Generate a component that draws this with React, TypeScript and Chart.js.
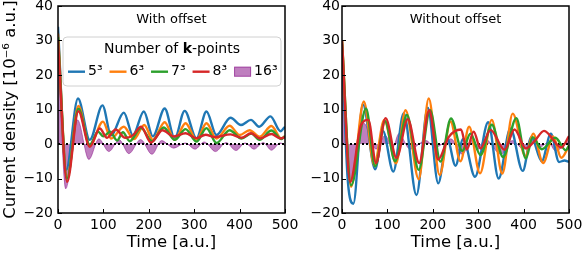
import React, { useEffect, useRef } from 'react';
import { Chart, registerables } from 'chart.js';

Chart.register(...registerables);

// ---------- ticks / labels ----------
const timeTicks = [0, 100, 200, 300, 400, 500];
const densityTicks = [-20, -10, 0, 10, 20, 30, 40];
const seriesLabels = ['5³', '6³', '7³', '8³', '16³'];
const seriesColors = ['#1f77b4', '#ff7f0e', '#2ca02c', '#d62728', '#800080'];

// ---------- "With offset" panel ----------
const offT5 = [0, 18, 44, 70, 98, 117, 145, 165, 189, 209, 235, 257, 279, 305, 327, 349, 380, 403, 425, 443, 468, 490, 500];
const offY5 = [34, -7.5, 13.2, 1.2, 11.2, 2.5, 9.1, 2.5, 9.4, 2.2, 10.3, 1.6, 9.6, 1.6, 9.4, 2.6, 7.6, 5.5, 7, 5, 8, 3.7, 5];
const offT6 = [0, 20, 45, 70, 99, 117, 145, 167, 190, 209, 235, 257, 281, 305, 327, 349, 378, 400, 422, 444, 470, 492, 500];
const offY6 = [32, -10, 11, -0.5, 6.5, 1.6, 5, 1.4, 5.5, 1.2, 6.3, 1.2, 6, 1.2, 6, 1.6, 5.3, 2.6, 4, 2.1, 5.2, 1.6, 2.2];
const offT7 = [0, 20, 45, 70, 88, 100, 115, 130, 143, 158, 183, 207, 233, 257, 281, 305, 327, 349, 378, 404, 426, 444, 470, 492, 500];
const offY7 = [31, -10, 10.2, -0.2, 3.6, 2.2, 3.6, 1, 3.4, 0.8, 4.6, 0.8, 4.8, 1.2, 4.3, 0.7, 4.6, 0.3, 4, 1.6, 3, 1.2, 3.9, 1.4, 2.3];
const offT8 = [0, 20, 45, 70, 92, 108, 127, 148, 165, 183, 205, 230, 255, 281, 305, 325, 345, 380, 405, 425, 445, 470, 490, 500];
const offY8 = [30, -11, 9.5, -0.8, 4.5, 1.8, 4.2, 1.8, 2.5, 5, 0.4, 4, 2.2, 3.1, 1.7, 2.7, 2, 2.8, 1.8, 3.1, 1.6, 2.9, 1.6, 2];
const offT16 = [0, 17, 43, 68, 90, 112, 135, 156, 182, 207, 228, 255, 280, 302, 322, 347, 370, 392, 412, 432, 452, 470, 490, 500];
const offY16 = [29, -13, 7, -4.5, 1.5, -2.2, 1.2, -2.8, 1.3, -3, 1, -1.2, 0.3, -1.5, 0.6, -2.2, 0.4, -1.9, 0.3, -1.5, 0.4, -1.8, 0.3, -0.5];

// ---------- "Without offset" panel ----------
const noT5 = [0, 13, 25, 46, 73, 90, 113, 136, 164, 189, 212, 232, 250, 267, 293, 322, 345, 371, 398, 417, 440, 460, 478, 490, 500];
const noY5 = [29, -11, -17.3, 11.5, -7.3, 3.8, -8, 8.9, -14.8, 10.5, -11.4, 1.5, -6.3, 1.5, -9.5, 6.3, -10, 4.5, -7.8, 2, -5, 3, -5.2, -4.8, -5.2];
const noT6 = [0, 20, 48, 71, 93, 119, 140, 169, 191, 215, 239, 261, 280, 304, 330, 353, 376, 404, 421, 443, 465, 483, 500];
const noY6 = [30, -12.4, 12.3, -6.1, 7, -5.6, 9.8, -10.2, 13.2, -9, 6.5, -5, 5, -8.5, 7, -8.6, 8.8, -3.5, 3, -5.5, 2.2, -4, -0.5];
const noT7 = [0, 20, 53, 73, 95, 117, 143, 169, 194, 217, 240, 265, 283, 305, 330, 355, 384, 405, 420, 440, 470, 493, 500];
const noY7 = [30, -12, 10.3, -6.5, 6.6, -5, 8.4, -7.5, 9.8, -5.1, 7.4, -2, 3, -3.2, 5.6, -3.8, 7.5, -4.2, 2, -1.5, 1.8, -1.8, -0.5];
const noT8 = [0, 18, 42, 58, 75, 96, 120, 145, 170, 192, 212, 235, 262, 275, 290, 305, 327, 358, 380, 405, 425, 445, 483, 500];
const noY8 = [30, -11, 5.5, 7, -5.5, 7.5, -4, 7.2, -5.5, 9.8, -4.5, 2, 4.2, -1.6, 3.6, -1.3, 4.1, -1.7, 4.2, -1.3, 1, 3.8, -1, 2.3];
const noT16 = [0, 18, 48, 75, 95, 112, 125, 150, 185, 205, 240, 265, 285, 300, 315, 350, 375, 400, 420, 435, 455, 470, 500];
const noY16 = [28, -11, 6, -1.5, 2.5, -1, 3, -1.5, 1, -1, 1.5, -3, 1, -1.5, 1.5, -3, 1, -1.5, 1, -1, 0.5, -2, 1];

const FONT = "'DejaVu Sans', sans-serif";

const zip = (t: number[], y: number[]) => t.map((tv, i) => ({ x: tv, y: y[i] }));
const fmt = (v: number) => (v < 0 ? '\u2212' + Math.abs(v) : String(v));

function buildDatasets(ts: number[][], ys: number[][]) {
  const orders = [4, 3, 2, 1, 6];
  const ds: any[] = ts.map((t, i) => {
    const isFill = i === 4;
    return {
      label: seriesLabels[i],
      data: zip(t, ys[i]),
      borderColor: isFill ? 'rgba(128,0,128,0.45)' : seriesColors[i],
      backgroundColor: isFill ? 'rgba(128,0,128,0.5)' : seriesColors[i],
      borderWidth: isFill ? 1 : 2.4,
      fill: isFill ? 'origin' : false,
      pointRadius: 0,
      cubicInterpolationMode: 'monotone',
      order: orders[i],
    };
  });
  ds.push({
    label: '',
    data: [{ x: timeTicks[0], y: 0 }, { x: timeTicks[timeTicks.length - 1], y: 0 }],
    borderColor: '#000',
    borderWidth: 2,
    borderDash: [2, 2],
    pointRadius: 0,
    fill: false,
    order: 5,
  });
  return ds;
}

const frameTicks = {
  id: 'frameTicks',
  afterDatasetsDraw(chart: any) {
    const { ctx, chartArea: a, scales } = chart;
    ctx.save();
    ctx.strokeStyle = '#000';
    ctx.lineWidth = 1;
    ctx.beginPath();
    scales.x.ticks.forEach((t: any) => {
      const px = Math.round(scales.x.getPixelForValue(t.value)) + 0.5;
      ctx.moveTo(px, a.bottom);
      ctx.lineTo(px, a.bottom - 4);
    });
    scales.y.ticks.forEach((t: any) => {
      const py = Math.round(scales.y.getPixelForValue(t.value)) + 0.5;
      ctx.moveTo(a.left, py);
      ctx.lineTo(a.left + 4, py);
    });
    ctx.stroke();
    ctx.lineWidth = 1.5;
    ctx.strokeRect(a.left, a.top, a.right - a.left, a.bottom - a.top);
    ctx.restore();
  },
};

const panelTitle = {
  id: 'panelTitle',
  afterDraw(chart: any, _args: any, opts: any) {
    if (!opts || !opts.text) return;
    const { ctx, chartArea: a } = chart;
    ctx.save();
    ctx.font = `13px ${FONT}`;
    ctx.fillStyle = '#000';
    ctx.textAlign = 'center';
    ctx.textBaseline = 'middle';
    ctx.fillText(opts.text, (a.left + a.right) / 2, a.top + 13.5);
    ctx.restore();
  },
};

const legendBox = {
  id: 'legendBox',
  afterDraw(chart: any, _args: any, opts: any) {
    if (!opts || !opts.show) return;
    const { ctx, chartArea: a } = chart;
    const x0 = a.left + 5;
    const x1 = a.right - 4;
    const y0 = a.top + 31;
    const y1 = a.top + 80;
    ctx.save();
    const r = 4;
    ctx.beginPath();
    ctx.moveTo(x0 + r, y0);
    ctx.lineTo(x1 - r, y0);
    ctx.arcTo(x1, y0, x1, y0 + r, r);
    ctx.lineTo(x1, y1 - r);
    ctx.arcTo(x1, y1, x1 - r, y1, r);
    ctx.lineTo(x0 + r, y1);
    ctx.arcTo(x0, y1, x0, y1 - r, r);
    ctx.lineTo(x0, y0 + r);
    ctx.arcTo(x0, y0, x0 + r, y0, r);
    ctx.closePath();
    ctx.fillStyle = 'rgba(255,255,255,0.85)';
    ctx.fill();
    ctx.strokeStyle = '#d0d0d0';
    ctx.lineWidth = 1;
    ctx.stroke();

    const normal = `14px ${FONT}`;
    const bold = `bold 14px ${FONT}`;
    const parts = [
      { t: 'Number of ', f: normal },
      { t: 'k', f: bold },
      { t: '-points', f: normal },
    ];
    let total = 0;
    parts.forEach((p) => {
      ctx.font = p.f;
      total += ctx.measureText(p.t).width;
    });
    let tx = (x0 + x1) / 2 - total / 2;
    const ty = a.top + 43.5;
    ctx.fillStyle = '#000';
    ctx.textBaseline = 'middle';
    ctx.textAlign = 'left';
    parts.forEach((p) => {
      ctx.font = p.f;
      ctx.fillText(p.t, tx, ty);
      tx += ctx.measureText(p.t).width;
    });

    const iy = a.top + 65.7;
    let x = x0 + 5;
    const hl = 17;
    ctx.font = normal;
    chart.data.datasets
      .filter((d: any) => seriesLabels.includes(d.label))
      .forEach((d: any) => {
        if (d.fill) {
          ctx.fillStyle = d.backgroundColor;
          ctx.fillRect(x, iy - 5, hl, 10);
          ctx.strokeStyle = d.borderColor;
          ctx.lineWidth = 1;
          ctx.strokeRect(x + 0.5, iy - 4.5, hl - 1, 9);
        } else {
          ctx.strokeStyle = d.borderColor;
          ctx.lineWidth = 2.4;
          ctx.beginPath();
          ctx.moveTo(x, iy);
          ctx.lineTo(x + hl, iy);
          ctx.stroke();
        }
        ctx.fillStyle = '#000';
        ctx.fillText(d.label, x + hl + 3, iy);
        x += hl + 3 + ctx.measureText(d.label).width + 7;
      });
    ctx.restore();
  },
};

function makeConfig(
  datasets: any[],
  yWidth: number,
  padRight: number,
  yTitle: string | null,
  tickPad: number,
  title: string,
  showLegend: boolean
): any {
  return {
    type: 'line',
    data: { datasets },
    plugins: [frameTicks, panelTitle, legendBox],
    options: {
      responsive: false,
      animation: false,
      layout: { padding: { left: 0, top: 6, right: padRight, bottom: 0 } },
      plugins: {
        legend: { display: false },
        tooltip: { enabled: false },
        panelTitle: { text: title },
        legendBox: { show: showLegend },
      },
      scales: {
        x: {
          type: 'linear',
          min: timeTicks[0],
          max: timeTicks[timeTicks.length - 1],
          afterBuildTicks: (s: any) => {
            s.ticks = timeTicks.map((v) => ({ value: v }));
          },
          afterFit: (s: any) => {
            s.height = 40;
            s.paddingLeft = 0;
            s.paddingRight = 0;
            s.paddingTop = 0;
            s.paddingBottom = 0;
          },
          grid: { display: false, drawTicks: false },
          border: { display: false },
          ticks: {
            color: '#000',
            font: { family: FONT, size: 14 },
            padding: 4,
            maxRotation: 0,
            autoSkip: false,
            callback: (v: number) => fmt(v),
          },
          title: {
            display: true,
            text: 'Time [a.u.]',
            color: '#000',
            font: { family: FONT, size: 16.5 },
            padding: { top: 0, bottom: 0 },
          },
        },
        y: {
          type: 'linear',
          min: densityTicks[0],
          max: densityTicks[densityTicks.length - 1],
          afterBuildTicks: (s: any) => {
            s.ticks = densityTicks.map((v) => ({ value: v }));
          },
          afterFit: (s: any) => {
            s.width = yWidth;
            s.paddingLeft = 0;
            s.paddingRight = 0;
            s.paddingTop = 0;
            s.paddingBottom = 0;
          },
          grid: { display: false, drawTicks: false },
          border: { display: false },
          ticks: {
            color: '#000',
            font: { family: FONT, size: 14 },
            padding: tickPad,
            autoSkip: false,
            callback: (v: number) => fmt(v),
          },
          title: {
            display: !!yTitle,
            text: yTitle || '',
            color: '#000',
            font: { family: FONT, size: 16.5 },
            padding: { top: 1, bottom: 0 },
          },
        },
      },
    },
  };
}

export default function App() {
  const leftRef = useRef<HTMLCanvasElement | null>(null);
  const rightRef = useRef<HTMLCanvasElement | null>(null);

  useEffect(() => {
    const leftDs = buildDatasets(
      [offT5, offT6, offT7, offT8, offT16],
      [offY5, offY6, offY7, offY8, offY16]
    );
    const rightDs = buildDatasets(
      [noT5, noT6, noT7, noT8, noT16],
      [noY5, noY6, noY7, noY8, noY16]
    );
    const c1 = new Chart(
      leftRef.current as HTMLCanvasElement,
      makeConfig(leftDs, 58, 15, 'Current density [10\u207B\u2076 a.u.]', 5, 'With offset', true)
    );
    const c2 = new Chart(
      rightRef.current as HTMLCanvasElement,
      makeConfig(rightDs, 42, 15, null, 2, 'Without offset', false)
    );
    return () => {
      c1.destroy();
      c2.destroy();
    };
  }, []);

  return (
    <div
      style={{
        position: 'fixed',
        left: 0,
        top: 0,
        width: 584,
        height: 253,
        background: '#fff',
        overflow: 'hidden',
      }}
    >
      <canvas
        ref={leftRef}
        width={300}
        height={253}
        style={{ position: 'absolute', left: 0, top: 0, width: 300, height: 253 }}
      />
      <canvas
        ref={rightRef}
        width={284}
        height={253}
        style={{ position: 'absolute', left: 300, top: 0, width: 284, height: 253 }}
      />
    </div>
  );
}
